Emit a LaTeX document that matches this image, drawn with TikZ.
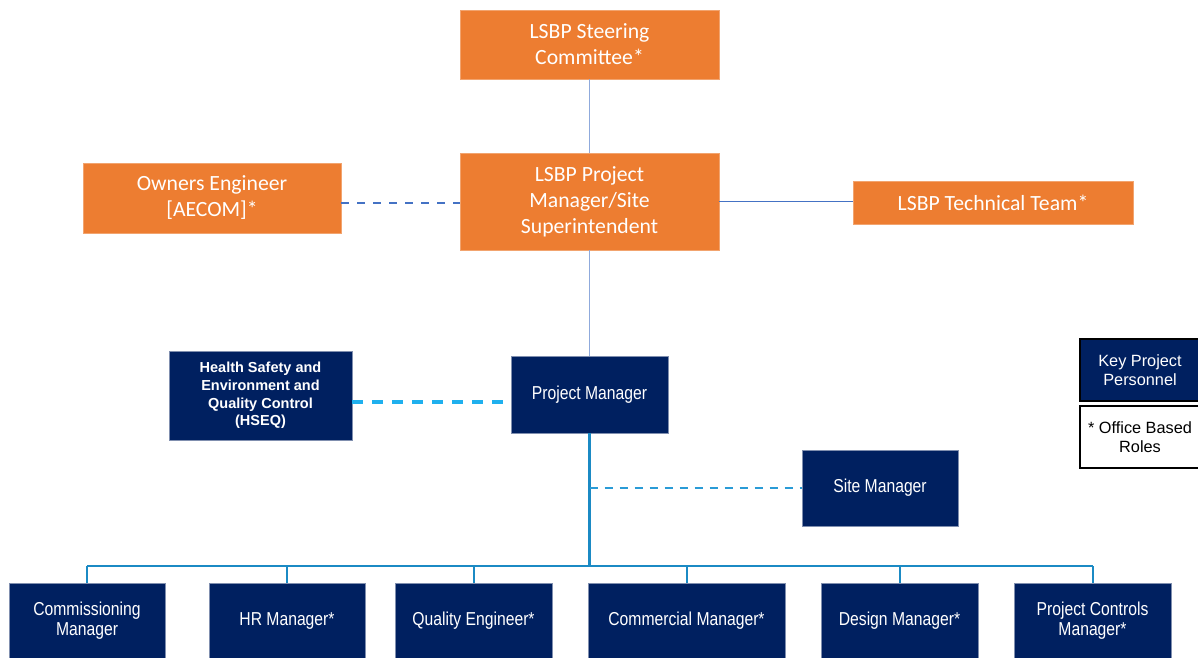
\documentclass[tikz,border=0pt]{standalone}
\usepackage{fontspec}
\setmainfont{Carlito}
\newfontfamily\arialfont{Liberation Sans}
\newfontfamily\narrowfont[FakeStretch=0.84]{Liberation Sans}
\definecolor{lsbporange}{HTML}{ED7D31}
\definecolor{keynavy}{HTML}{002060}
\definecolor{linkgrey}{HTML}{8FAADC}
\definecolor{linkblue}{HTML}{4472C4}
\definecolor{treeblue}{HTML}{1B8AC4}
\definecolor{hseqblue}{HTML}{1FB0EE}
\definecolor{siteblue}{HTML}{2A9BD6}

\begin{document}
\begin{tikzpicture}[
  x=1pt,
  y=-1pt,
  box/.style={
    draw,
    line width=0.8pt,
    inner sep=0pt,
    align=center,
  },
  lsbp box/.style={
    box,
    draw=lsbporange!70!white,
    fill=lsbporange,
    text=white,
    font={\fontsize{21.7}{26}\selectfont},
  },
  role box/.style={
    box,
    draw=keynavy!50!white,
    fill=keynavy,
    text=white,
    minimum width=156pt,
    minimum height=76pt,
    font={\narrowfont\fontsize{18.7}{20}\selectfont},
  },
  hseq box/.style={
    role box,
    font={\arialfont\bfseries\fontsize{14.5}{17.7}\selectfont},
  },
  legend box/.style={
    box,
    draw=black,
    line width=2pt,
    minimum width=120pt,
    minimum height=62pt,
    font={\arialfont\fontsize{16.3}{19}\selectfont},
  },
  link/.style={
    draw=linkgrey,
    line width=1.2pt,
  },
  side link/.style={
    draw=linkblue,
    line width=1pt,
  },
  owner link/.style={
    draw=linkblue,
    line width=2.5pt,
    dash pattern=on 8pt off 8pt,
  },
  hseq link/.style={
    draw=hseqblue,
    line width=3.5pt,
    dash pattern=on 11pt off 9pt,
  },
  site link/.style={
    draw=siteblue,
    line width=2pt,
    dash pattern=on 8pt off 7pt,
  },
  tree/.style={
    draw=treeblue,
    line width=2pt,
  },
  trunk/.style={
    tree,
    line width=3pt,
  },
]
  \useasboundingbox (0,0) rectangle (1198,657);

  %%%%%%%%%%%%%%%%%%%% LSBP %%%%%%%%%%%%%%%%%%%%

  \node[lsbp box, minimum width=259pt, minimum height=69pt] (steer)
    at (589.5,44.5) {LSBP Steering\\Committee*};
  \node[lsbp box, minimum width=259pt, minimum height=97pt] (lsbppm)
    at (589.5,201.5) {LSBP Project\\Manager/Site\\Superintendent};
  \node[lsbp box, minimum width=258pt, minimum height=70pt] (owner)
    at (212,198) {Owners Engineer\\{[AECOM]*}};
  \node[lsbp box, minimum width=280pt, minimum height=43pt] (tech)
    at (993,202.5) {LSBP Technical Team*};

  \draw[link] (steer) -- (lsbppm);
  \draw[side link] (lsbppm.east) -- (tech.west |- lsbppm.east);
  \draw[owner link] ([yshift=-1.5pt]owner.east |- lsbppm.west)
    -- ([yshift=-1.5pt]lsbppm.west);

  %%%%%%%%%%%%%%%%%%%% Project team %%%%%%%%%%%%%%%%%%%%

  \node[role box, minimum width=157pt, minimum height=77pt] (pm)
    at (589.5,394.5) {Project Manager};
  \node[hseq box, minimum width=183pt, minimum height=89pt] (hseq)
    at (260.5,395.5) {Health Safety and\\Environment and\\Quality Control\\(HSEQ)};
  \node[role box] (site) at (880,488) {Site Manager};

  \draw[link] (lsbppm) -- (pm);
  \draw[hseq link] ([yshift=-6.5pt]hseq.east)
    -- ([yshift=-6.5pt,xshift=-7pt]hseq.east -| pm.west);

  \node[role box] (comm) at (87,621) {Commissioning\\Manager};
  \node[role box] (hr) at (287,621) {HR Manager*};
  \node[role box, minimum width=157pt] (qe) at (473.5,621) {Quality Engineer*};
  \node[role box, minimum width=197pt] (commer) at (686.5,621) {Commercial Manager*};
  \node[role box, minimum width=157pt] (design) at (899.5,621) {Design Manager*};
  \node[role box, minimum width=157pt] (pc) at (1092.5,621) {Project Controls\\Manager*};

  \coordinate (bus) at (589.5,566);

  \draw[trunk] (pm) -- (bus);
  \draw[site link] (pm.south |- site.west) -- (site.west);
  \draw[tree] (comm.north |- bus) -- (pc.north |- bus);
  \foreach \n in {comm,hr,qe,commer,design,pc} {
    \draw[tree] (\n.north |- bus) -- (\n.north);
  }

  %%%%%%%%%%%%%%%%%%%% Legend %%%%%%%%%%%%%%%%%%%%

  \node[legend box, fill=keynavy, text=white] (key)
    at (1140,370) {Key Project\\Personnel};
  \node[legend box, fill=white, text=black] (office)
    at (1140,437) {* Office Based\\Roles};
\end{tikzpicture}
\end{document}
